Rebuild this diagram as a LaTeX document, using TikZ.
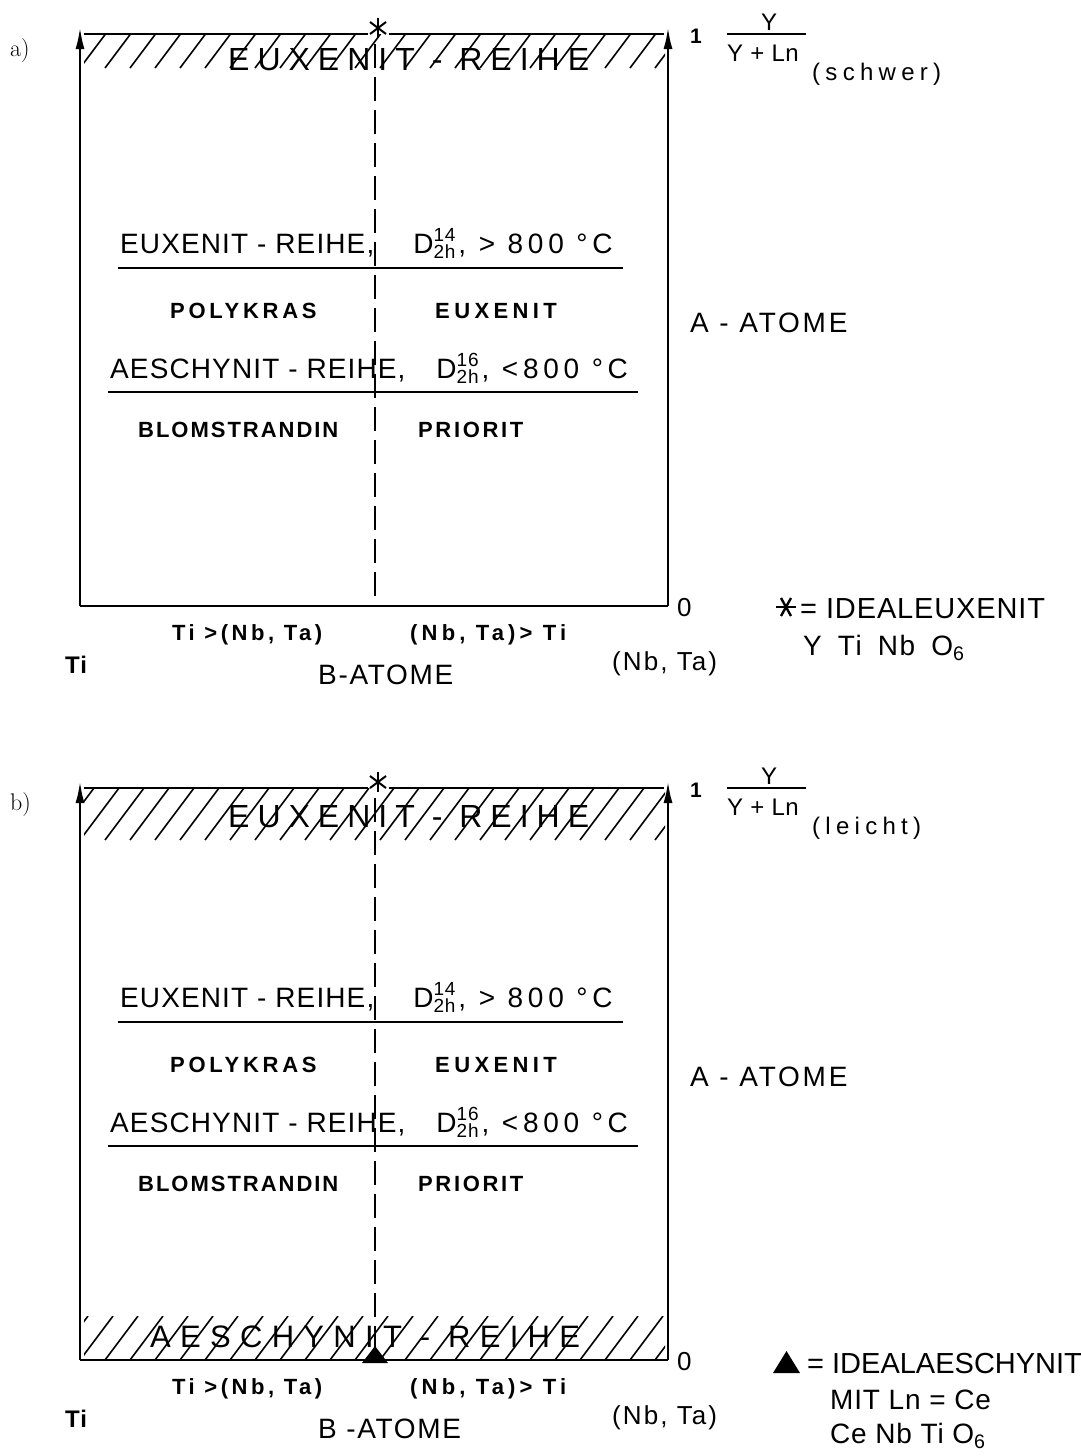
\documentclass[tikz,border=0pt]{standalone}
\usepackage{fontspec}
\newfontfamily\lab{Liberation Sans}
\usetikzlibrary{arrows.meta}
\newcommand{\myfs}[1]{\fontsize{#1}{#1}\selectfont}
\newcommand{\FR}[2]{\lab\myfs{#1}\addfontfeatures{LetterSpace=#2}}
\newcommand{\FB}[2]{\lab\bfseries\myfs{#1}\addfontfeatures{LetterSpace=#2}}
\newcommand{\mysym}[2]{D\makebox[0pt][l]{\raisebox{12pt}{\myfs{19}\addfontfeatures{LetterSpace=4}#1}}\raisebox{-5pt}{\myfs{19}\addfontfeatures{LetterSpace=4}#2}\hspace{3pt}}
\newcommand{\mystarv}[2]{%
  \draw[line width=2pt] (#1,#2-10) -- (#1,#2+10);
  \draw[line width=2pt] (#1-8,#2-6) -- (#1+8,#2+6);
  \draw[line width=2pt] (#1-8,#2+6) -- (#1+8,#2-6);}
\newcommand{\mystarh}[2]{%
  \draw[line width=2.4pt] (#1-10,#2) -- (#1+10,#2);
  \draw[line width=2.4pt] (#1-5,#2-9) -- (#1+5,#2+9);
  \draw[line width=2.4pt] (#1-5,#2+9) -- (#1+5,#2-9);}
\newcommand{\hatchband}[2]{%
  \begin{scope}
    \clip (84,#1) rectangle (665,#2);
    \foreach \x in {30,55,...,700}
      \draw[hatch] (\x,#2) -- ++({0.75*(#2-#1)},{-(#2-#1)});
  \end{scope}}
\newcommand{\mypanel}[5]{%
  % #1 prefix, #2 bottom of top band, #3 word, #4 band baseline, #5 B-ATOME text
  \coordinate (#1bl) at (80,606);
  \coordinate (#1br) at (668,606);
  \coordinate (#1tl) at (80,27);
  \coordinate (#1tr) at (668,27);
  \coordinate (#1ta) at (84,34);
  \coordinate (#1tb) at (368,34);
  \coordinate (#1tc) at (389,34);
  \coordinate (#1td) at (664,34);
  \hatchband{34}{#2}
  \draw[axis] (#1bl) -- (#1tl);
  \draw[axis] (#1br) -- (#1tr);
  \draw[frame] (#1bl) -- (#1br);
  \draw[frame] (#1ta) -- (#1tb);
  \draw[frame] (#1tc) -- (#1td);
  \mystarv{378}{28}
  \node[txt,font=\FR{32}{25}] (#1band) at (228,#4) {EUXENIT - REIHE};
  \node[txt,font=\FR{28}{4}] (#1eu) at (120,253) {EUXENIT - REIHE,\hspace{39pt}\addfontfeatures{LetterSpace=17}\mysym{14}{2h}, > 800 °C};
  \draw[uline] (118,268) -- (623,268);
  \node[txt,font=\FB{22}{17}] (#1poly) at (170,318) {POLYKRAS};
  \node[txt,font=\FB{22}{20}] (#1eux) at (435,318) {EUXENIT};
  \node[txt,font=\FR{28}{4}] (#1ae) at (110,378) {AESCHYNIT - REIHE,\hspace{31pt}\addfontfeatures{LetterSpace=17}\mysym{16}{2h}, <800 °C};
  \draw[uline] (108,392) -- (638,392);
  \node[txt,font=\FB{22}{9}] (#1blo) at (138,437) {BLOMSTRANDIN};
  \node[txt,font=\FB{22}{12}] (#1pri) at (418,437) {PRIORIT};
  \node[txt,font=\FR{28}{10}] (#1aat) at (690,332) {A - ATOME};
  \node[txt,font=\FR{26}{0}] (#1zero) at (677,616) {0};
  \node[txt,font=\FB{21}{0}] (#1one) at (690,43) {1};
  \node[font=\FR{24}{0},inner sep=0pt,anchor=base] (#1y) at (769,30) {Y};
  \draw[uline] (727,34) -- (806,34);
  \node[txt,font=\FR{24}{2}] (#1yln) at (727,61) {Y + Ln};
  \node[txt,font=\FR{24}{22}] (#1w) at (812,80) {#3};
  \node[txt,font=\FB{22}{16}] (#1tin) at (172,640) {Ti >(Nb, Ta)};
  \node[txt,font=\FB{22}{19}] (#1nbt) at (410,640) {(Nb, Ta)> Ti};
  \node[txt,font=\FB{24}{4}] (#1ti) at (65,673) {Ti};
  \node[txt,font=\FR{28}{6}] (#1bat) at (318,684) {#5};
  \node[txt,font=\FR{26}{8}] (#1nbta) at (612,670) {(Nb, Ta)};
}
\begin{document}
\begin{tikzpicture}[x=1pt,y=-1pt,
  frame/.style={line width=2.5pt},
  axis/.style={line width=2.5pt,-{Latex[length=22pt,width=9pt]}},
  hatch/.style={line width=1.6pt},
  uline/.style={line width=2pt},
  dsh/.style={line width=2pt,dash pattern=on 24pt off 9pt},
  txt/.style={anchor=base west,inner sep=0pt},
  plabel/.style={font=\myfs{24},inner sep=0pt,anchor=base west}]
\useasboundingbox (0,0) rectangle (1081,1456);
% ---------- panel a ----------
\node[plabel] (pa) at (10,56) {a)};
\mypanel{a}{68}{(schwer)}{70}{B-ATOME}
\coordinate (ada) at (375,44);
\coordinate (adb) at (375,606);
\draw[dsh] (ada) -- (adb);
\mystarh{786}{607}
\node[txt,font=\FR{29}{3}] (aleg1) at (800,618) {= IDEALEUXENIT};
\node[txt,font=\FR{28}{6}] (aleg2) at (803,655) {Y\hspace{16pt}Ti\hspace{16pt}Nb\hspace{16pt}O\textsubscript{6}};
% ---------- panel b ----------
\node[plabel] (pb) at (10,810) {b)};
\begin{scope}[yshift=-754pt]
\mypanel{b}{86}{(leicht)}{73}{B -ATOME}
\hatchband{562}{606}
\node[txt,font=\FR{31}{30}] (bband2) at (150,593) {AESCHYNIT - REIHE};
\coordinate (bda) at (375,44);
\coordinate (bdb) at (375,600);
\draw[dsh] (bda) -- (bdb);
\fill (362,609) -- (375,592) -- (388,609) -- cycle;
\fill (773,619) -- (786.5,597) -- (800,619) -- cycle;
\node[txt,font=\FR{29}{0}] (bleg1) at (807,619) {= IDEALAESCHYNIT};
\node[txt,font=\FR{28}{3}] (bleg2) at (830,655) {MIT Ln = Ce};
\node[txt,font=\FR{28}{3}] (bleg3) at (830,689) {Ce Nb Ti O\textsubscript{6}};
\end{scope}
\end{tikzpicture}
\end{document}
